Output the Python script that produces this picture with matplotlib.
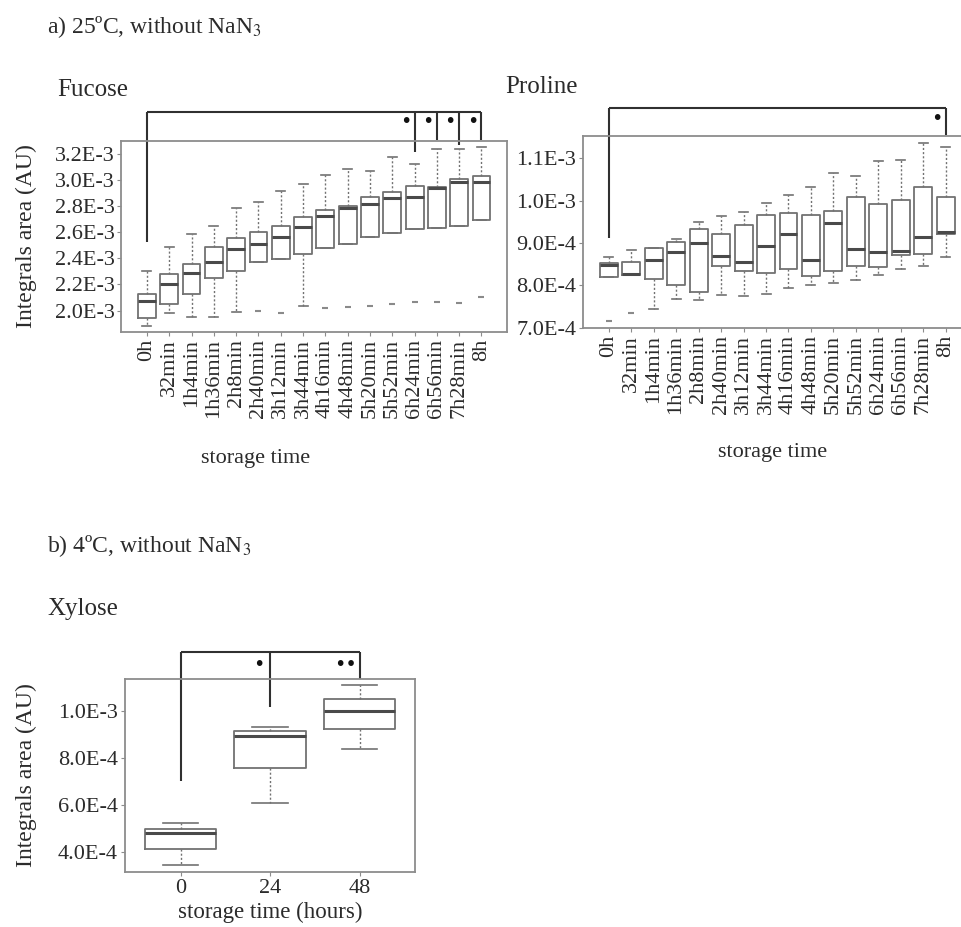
import matplotlib
matplotlib.use("Agg")
import matplotlib.pyplot as plt

plt.rcParams['font.family'] = ['Liberation Serif', 'DejaVu Serif']
plt.rcParams['mathtext.fontset'] = 'stix'

# ---------------- data ----------------
time_labels = ["0h", "32min", "1h4min", "1h36min", "2h8min", "2h40min", "3h12min", "3h44min",
               "4h16min", "4h48min", "5h20min", "5h52min", "6h24min", "6h56min", "7h28min", "8h"]

# Fucose (x1e-3)
fuc_whishi = [2.305, 2.484, 2.583, 2.647, 2.784, 2.832, 2.916, 2.967, 3.036, 3.079, 3.066, 3.176, 3.120, 3.232, 3.232, 3.247]
fuc_q3     = [2.125, 2.278, 2.357, 2.484, 2.553, 2.603, 2.647, 2.718, 2.769, 2.799, 2.870, 2.908, 2.952, 2.942, 3.003, 3.028]
fuc_med    = [2.074, 2.204, 2.290, 2.369, 2.471, 2.507, 2.565, 2.637, 2.723, 2.782, 2.814, 2.858, 2.870, 2.938, 2.985, 2.985]
fuc_q1     = [1.942, 2.051, 2.125, 2.247, 2.301, 2.369, 2.392, 2.431, 2.481, 2.509, 2.565, 2.591, 2.621, 2.629, 2.647, 2.692]
fuc_whislo = [1.883, 1.985, 1.954, 1.954, 1.988, 2.369, 2.392, 2.036, 2.481, 2.509, 2.565, 2.591, 2.621, 2.629, 2.647, 2.692]
fuc_fliers = [[], [], [], [], [], [2.000], [1.985], [], [2.018], [2.031], [2.038], [2.051], [2.069], [2.064], [2.061], [2.102]]

# Proline (x1e-4)
pro_whishi = [8.68, 8.84, 8.89, 9.09, 9.50, 9.64, 9.72, 9.95, 10.13, 10.32, 10.64, 10.58, 10.92, 10.96, 11.35, 11.26]
pro_q3     = [8.52, 8.55, 8.89, 9.03, 9.34, 9.21, 9.42, 9.67, 9.70, 9.65, 9.76, 10.09, 9.92, 10.02, 10.32, 10.09]
pro_med    = [8.48, 8.27, 8.59, 8.78, 9.00, 8.70, 8.56, 8.92, 9.21, 8.59, 9.47, 8.86, 8.80, 8.82, 9.15, 9.25]
pro_q1     = [8.21, 8.24, 8.16, 8.00, 7.84, 8.46, 8.35, 8.29, 8.39, 8.23, 8.33, 8.46, 8.43, 8.72, 8.74, 9.22]
pro_whislo = [8.21, 8.24, 7.44, 7.69, 7.66, 7.77, 7.76, 7.80, 7.94, 8.00, 8.07, 8.12, 8.25, 8.39, 8.46, 8.68]
pro_fliers = [[7.17], [7.36], [], [], [], [], [], [], [], [], [], [], [], [], [], []]

# Xylose (x1e-4)
xyl_labels = ["0", "24", "48"]
xyl_whishi = [5.23, 9.33, 11.10]
xyl_q3     = [4.98, 9.16, 10.51]
xyl_med    = [4.83, 8.95, 10.00]
xyl_q1     = [4.13, 7.57, 9.22]
xyl_whislo = [3.46, 6.11, 8.39]

fuc_yticks = [2.0e-3, 2.2e-3, 2.4e-3, 2.6e-3, 2.8e-3, 3.0e-3, 3.2e-3]
fuc_yticklabels = ["2.0E-3", "2.2E-3", "2.4E-3", "2.6E-3", "2.8E-3", "3.0E-3", "3.2E-3"]
pro_yticks = [7.0e-4, 8.0e-4, 9.0e-4, 1.0e-3, 1.1e-3]
pro_yticklabels = ["7.0E-4", "8.0E-4", "9.0E-4", "1.0E-3", "1.1E-3"]
xyl_yticks = [4.0e-4, 6.0e-4, 8.0e-4, 1.0e-3]
xyl_yticklabels = ["4.0E-4", "6.0E-4", "8.0E-4", "1.0E-3"]

# ---------------- styling ----------------
TXT = "#2b2b2b"
BOX = "#727272"
MED = "#4a4a4a"
FRAME = "#8c8c8c"
BRK = "#303030"

fig = plt.figure(figsize=(9.61, 9.27), dpi=100)


def make_stats(scale, whislo, q1, med, q3, whishi, fliers=None):
    stats = []
    for i in range(len(med)):
        stats.append(dict(whislo=whislo[i] * scale, q1=q1[i] * scale, med=med[i] * scale,
                          q3=q3[i] * scale, whishi=whishi[i] * scale,
                          fliers=[f * scale for f in (fliers[i] if fliers else [])]))
    return stats


def draw_box(ax, stats, xlim, ylim, yticks, yticklabels, xlabels, rot):
    pos = list(range(1, len(stats) + 1))
    ax.bxp(stats, positions=pos, widths=0.8, showfliers=True, patch_artist=False,
           boxprops=dict(color=BOX, linewidth=1.3),
           medianprops=dict(color=MED, linewidth=2.2),
           whiskerprops=dict(color=BOX, linewidth=1.0, linestyle=(0, (1.5, 1.5))),
           capprops=dict(color=BOX, linewidth=1.2),
           capwidths=0.4,
           flierprops=dict(marker='_', markersize=4, markeredgecolor="#8a8a8a", markeredgewidth=1.5))
    ax.set_xlim(*xlim)
    ax.set_ylim(*ylim)
    ax.set_yticks(yticks)
    ax.set_yticklabels(yticklabels, fontsize=16, color=TXT)
    ax.set_xticks(pos)
    ax.set_xticklabels(xlabels, rotation=rot, fontsize=16, color=TXT)
    for s in ax.spines.values():
        s.set_color(FRAME)
        s.set_linewidth(1.3)
    ax.tick_params(axis='both', colors=FRAME, length=3, width=0.8, pad=2, labelcolor=TXT)


def bracket(ax, xs, y_top, y_ends, color=BRK):
    ax.plot([xs[0], xs[-1]], [y_top, y_top], color=color, lw=1.5, clip_on=False, solid_capstyle='butt')
    for x, ye in zip(xs, y_ends):
        ax.plot([x, x], [y_top, ye], color=color, lw=1.5, clip_on=False, solid_capstyle='butt')


def star(ax, x, y, s):
    ax.text(x, y, s, ha='center', va='center', fontsize=14, color="#111111",
            family='DejaVu Sans', clip_on=False)


# ---------------- Fucose ----------------
ax1 = fig.add_axes([0.1264, 0.6419, 0.4011, 0.2060])
draw_box(ax1, make_stats(1e-3, fuc_whislo, fuc_q1, fuc_med, fuc_q3, fuc_whishi, fuc_fliers),
         (-0.14, 17.14), (1.837e-3, 3.2955e-3), fuc_yticks, fuc_yticklabels, time_labels, 90)
bracket(ax1, [1, 13, 14, 15, 16], 3.519e-3, [2.527e-3, 3.214e-3, 3.303e-3, 3.265e-3, 3.303e-3])
for x in [12.6, 13.6, 14.6, 15.6]:
    star(ax1, x, 3.443e-3, "•")

# ---------------- Proline ----------------
ax2 = fig.add_axes([0.6067, 0.6462, 0.4042, 0.2071])
draw_box(ax2, make_stats(1e-4, pro_whislo, pro_q1, pro_med, pro_q3, pro_whishi, pro_fliers),
         (-0.14, 17.14), (7.0e-4, 1.152e-3), pro_yticks, pro_yticklabels, time_labels, 90)
bracket(ax2, [1, 16], 1.217e-3, [9.11e-4, 1.155e-3])
star(ax2, 15.6, 1.194e-3, "•")

# ---------------- Xylose ----------------
ax3 = fig.add_axes([0.1301, 0.0590, 0.3018, 0.2082])
draw_box(ax3, make_stats(1e-4, xyl_whislo, xyl_q1, xyl_med, xyl_q3, xyl_whishi),
         (0.38, 3.62), (3.15e-4, 11.35e-4), xyl_yticks, xyl_yticklabels, xyl_labels, 0)
bracket(ax3, [1, 2, 3], 1.252e-3, [7.04e-4, 1.018e-3, 1.135e-3])
star(ax3, 1.87, 1.200e-3, "•")
star(ax3, 2.84, 1.200e-3, "••")

# ---------------- texts ----------------
def ftext(x, y, s, size, **kw):
    fig.text(x / 961, 1 - y / 927, s, fontsize=size, color=TXT, **kw)

ftext(47, 33, r"a) 25ºC, without NaN$_3$", 17, va='baseline')
ftext(57, 96, "Fucose", 18, va='baseline')
ftext(505, 93, "Proline", 18, va='baseline')
ftext(47, 552, r"b) 4ºC, without NaN$_3$", 17, va='baseline')
ftext(47, 615, "Xylose", 18, va='baseline')

ftext(26, 236, "Integrals area (AU)", 17, rotation=90, ha='center', va='center')
ftext(26, 775, "Integrals area (AU)", 17, rotation=90, ha='center', va='center')
ftext(256, 458, "storage time", 16, ha='center', va='center')
ftext(773, 452, "storage time", 16, ha='center', va='center')
ftext(270, 912, "storage time (hours)", 16.5, ha='center', va='center')

fig.savefig("out.png", dpi=100)
